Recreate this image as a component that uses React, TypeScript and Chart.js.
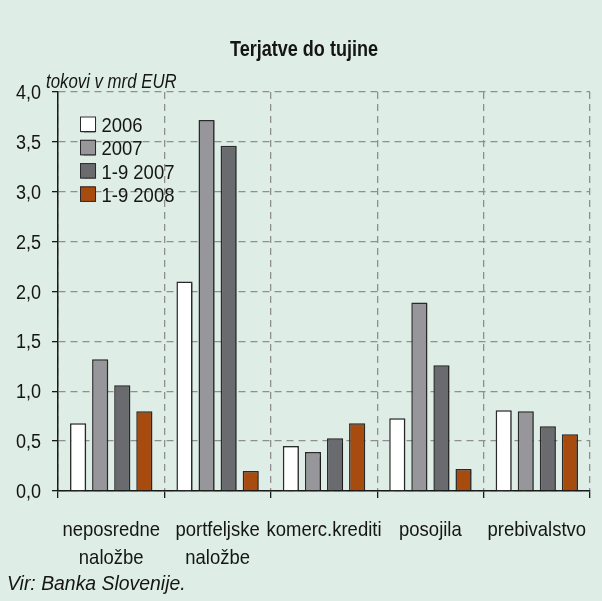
import React, { useEffect, useRef } from "react";
import { Chart, registerables } from "chart.js";

Chart.register(...registerables);

const categories: string[][] = [
  ["neposredne", "naložbe"],
  ["portfeljske", "naložbe"],
  ["komerc.krediti"],
  ["posojila"],
  ["prebivalstvo"],
];
const seriesLabels = ["2006", "2007", "1-9 2007", "1-9 2008"];
const values2006 = [0.68, 2.1, 0.45, 0.73, 0.81];
const values2007 = [1.32, 3.72, 0.39, 1.89, 0.8];
const values2007q = [1.06, 3.46, 0.53, 1.26, 0.65];
const values2008q = [0.8, 0.2, 0.68, 0.22, 0.57];
const seriesColors = ["#ffffff", "#97979b", "#6a6b6f", "#a84b0e"];

const titleText = "Terjatve do tujine";
const unitText = "tokovi v mrd EUR";
const sourceText = "Vir: Banka Slovenije.";

const FONT = "'Liberation Sans', Arial, sans-serif";
const TEXT_COLOR = "#151515";

function drawText(
  ctx: CanvasRenderingContext2D,
  text: string,
  x: number,
  y: number,
  font: string,
  align: CanvasTextAlign,
  sx: number
) {
  ctx.save();
  ctx.font = font;
  ctx.fillStyle = TEXT_COLOR;
  ctx.textAlign = align;
  ctx.textBaseline = "alphabetic";
  ctx.translate(x, y);
  ctx.scale(sx, 1);
  ctx.fillText(text, 0, 0);
  ctx.restore();
}

export default function App() {
  const ref = useRef<HTMLCanvasElement | null>(null);
  useEffect(() => {
    document.body.style.margin = "0";
    const canvas = ref.current!;
    const series = [values2006, values2007, values2007q, values2008q];

    const bgPlugin = {
      id: "bg",
      beforeDraw(chart: any) {
        const ctx = chart.ctx;
        ctx.save();
        ctx.fillStyle = "#deede6";
        ctx.fillRect(0, 0, chart.width, chart.height);
        ctx.restore();
      },
      beforeDatasetsDraw(chart: any) {
        const ctx = chart.ctx;
        ctx.save();
        ctx.shadowColor = "rgba(0,0,0,0.35)";
        ctx.shadowOffsetX = 1.5;
        ctx.shadowOffsetY = 1;
        ctx.shadowBlur = 1.5;
      },
      afterDatasetsDraw(chart: any) {
        chart.ctx.restore();
      },
      afterDraw(chart: any) {
        const ctx = chart.ctx;
        const xs = chart.scales.x;
        const ys = chart.scales.y;
        drawText(ctx, titleText, 304, 55.5, `bold 22px ${FONT}`, "center", 0.82);
        drawText(ctx, unitText, 46, 88, `italic 21px ${FONT}`, "left", 0.8);
        drawText(ctx, sourceText, 7, 590, `italic 20px ${FONT}`, "left", 0.97);
        ys.ticks.forEach((t: any) => {
          const y = ys.getPixelForValue(t.value);
          drawText(ctx, Number(t.value).toFixed(1).replace(".", ","), 41, y + 7, `20px ${FONT}`, "right", 0.9);
        });
        categories.forEach((lines, i) => {
          const x = xs.getPixelForValue(i);
          lines.forEach((ln, j) => {
            drawText(ctx, ln, x, 536 + j * 28, `21px ${FONT}`, "center", 0.88);
          });
        });
        chart.data.datasets.forEach((ds: any, i: number) => {
          const cy = 124 + i * 23.3;
          ctx.save();
          ctx.shadowColor = "rgba(0,0,0,0.35)";
          ctx.shadowOffsetX = 1;
          ctx.shadowOffsetY = 1;
          ctx.shadowBlur = 1;
          ctx.fillStyle = ds.backgroundColor;
          ctx.fillRect(80, cy - 7.5, 15, 15);
          ctx.restore();
          ctx.save();
          ctx.strokeStyle = "#2a2a2a";
          ctx.lineWidth = 1;
          ctx.strokeRect(80.5, cy - 7, 15, 14.5);
          ctx.restore();
          drawText(ctx, ds.label, 101.5, cy + 8, `21px ${FONT}`, "left", 0.88);
        });
      },
    };

    const chart = new Chart(canvas, {
      type: "bar",
      data: {
        labels: categories,
        datasets: series.map((d, i) => ({
          label: seriesLabels[i],
          data: d,
          backgroundColor: seriesColors[i],
          borderColor: "#2a2a2a",
          borderWidth: 1.5,
          categoryPercentage: 0.83,
          barPercentage: 0.73,
        })),
      },
      options: {
        responsive: false,
        animation: false,
        layout: { padding: { left: 0, right: 12, top: 92, bottom: 103 } },
        plugins: {
          legend: { display: false },
          title: { display: false },
          tooltip: { enabled: false },
        },
        scales: {
          x: {
            grid: {
              color: "#8f8f8f",
              lineWidth: 1.3,
              tickLength: 7,
              tickColor: "#1a1a1a",
              tickWidth: 1.3,
              offset: true,
            },
            border: { color: "#1a1a1a", width: 1.5, dash: [7, 5] },
            ticks: { display: false, autoSkip: false, maxRotation: 0 },
          },
          y: {
            min: 0,
            max: 4,
            afterFit(scale: any) {
              scale.width = 58;
            },
            grid: {
              color: "#8f8f8f",
              lineWidth: 1.3,
              tickLength: 6,
              tickColor: "#1a1a1a",
              tickWidth: 1.3,
            },
            border: { color: "#1a1a1a", width: 1.5, dash: [7, 5] },
            ticks: { display: false, stepSize: 0.5 },
          },
        },
      },
      plugins: [bgPlugin],
    });
    return () => chart.destroy();
  }, []);
  return <canvas ref={ref} width={602} height={601} style={{ display: "block" }} />;
}
